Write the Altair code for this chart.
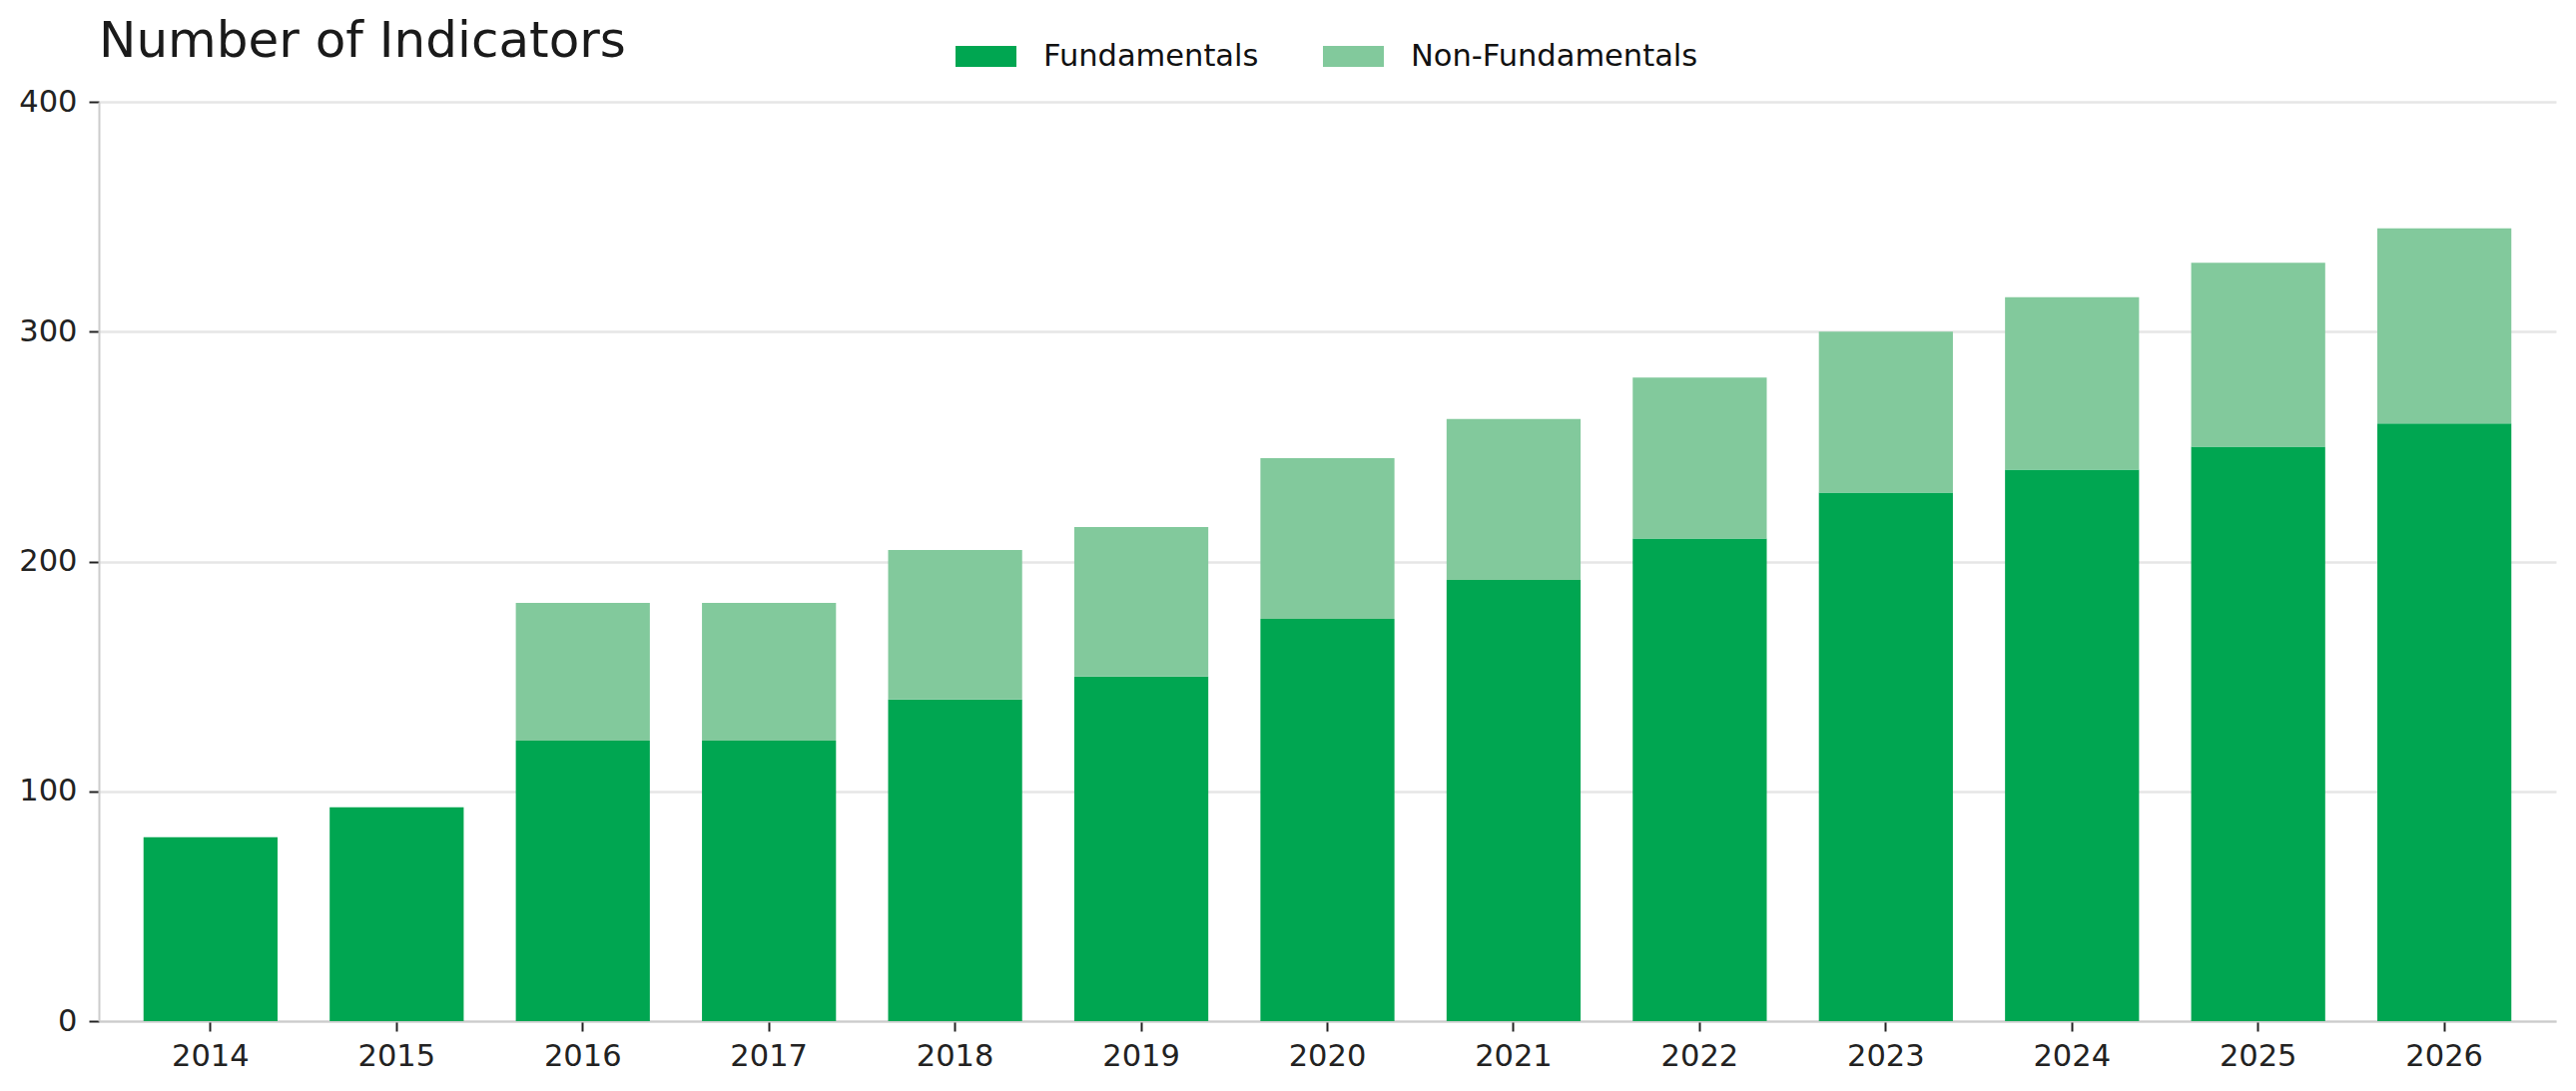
import altair as alt
import pandas as pd

years = ["2014", "2015", "2016", "2017", "2018", "2019", "2020",
         "2021", "2022", "2023", "2024", "2025", "2026"]
fundamentals = [80, 93, 122, 122, 140, 150, 175, 192, 210, 230, 240, 250, 260]
non_fundamentals = [0, 0, 60, 60, 65, 65, 70, 70, 70, 70, 75, 80, 85]
series = ["Fundamentals", "Non-Fundamentals"]
colors = ["#00A651", "#82C99C"]

rows = []
for y, f, n in zip(years, fundamentals, non_fundamentals):
    rows.append({"Year": y, "Series": series[0], "Value": f, "Order": 0})
    rows.append({"Year": y, "Series": series[1], "Value": n, "Order": 1})
df = pd.DataFrame(rows)

chart = alt.Chart(df).mark_bar().encode(
    x=alt.X("Year:O", sort=years,
            scale=alt.Scale(paddingInner=0.28, paddingOuter=0.24),
            axis=alt.Axis(title=None, labelAngle=0, grid=False)),
    y=alt.Y("Value:Q", stack="zero",
            scale=alt.Scale(domain=[0, 400], nice=False),
            axis=alt.Axis(title=None, values=[0, 100, 200, 300, 400], grid=True)),
    color=alt.Color("Series:N", sort=series,
                    scale=alt.Scale(domain=series, range=colors),
                    legend=alt.Legend(
                        title=None, orient="none", direction="horizontal",
                        legendX=858, legendY=-76,
                        symbolType="M-1,-0.344 H1 V0.344 H-1 Z",
                        symbolSize=3721, symbolStrokeWidth=0, symbolOpacity=1,
                        labelFontSize=30.5, labelColor="#111111", labelLimit=1000,
                        labelOffset=27, columnPadding=64, padding=0,
                        labelFont="DejaVu Sans")),
    order=alt.Order("Order:Q", sort="ascending"),
).properties(
    width=2461,
    height=921,
    title=alt.TitleParams("Number of Indicators", anchor="start", frame="group",
                          fontSize=50, fontWeight="normal", color="#1a1a1a",
                          font="DejaVu Sans", offset=0, dy=41),
    autosize=alt.AutoSizeParams(type="none"),
    padding={"left": 91, "top": 94, "right": 10, "bottom": 60},
).configure(
    font="DejaVu Sans",
).configure_view(
    stroke=None,
).configure_axis(
    domainColor="#cccccc", domainWidth=2,
    tickColor="#222222", tickWidth=2, tickSize=10,
    labelFontSize=30.5, labelColor="#222222", labelFont="DejaVu Sans",
    gridColor="#e6e6e6", gridWidth=2.5,
).configure_axisY(
    labelPadding=12,
).configure_axisX(
    labelPadding=10,
)

chart.save("out.html", embed_options={"renderer": "svg", "actions": False})
